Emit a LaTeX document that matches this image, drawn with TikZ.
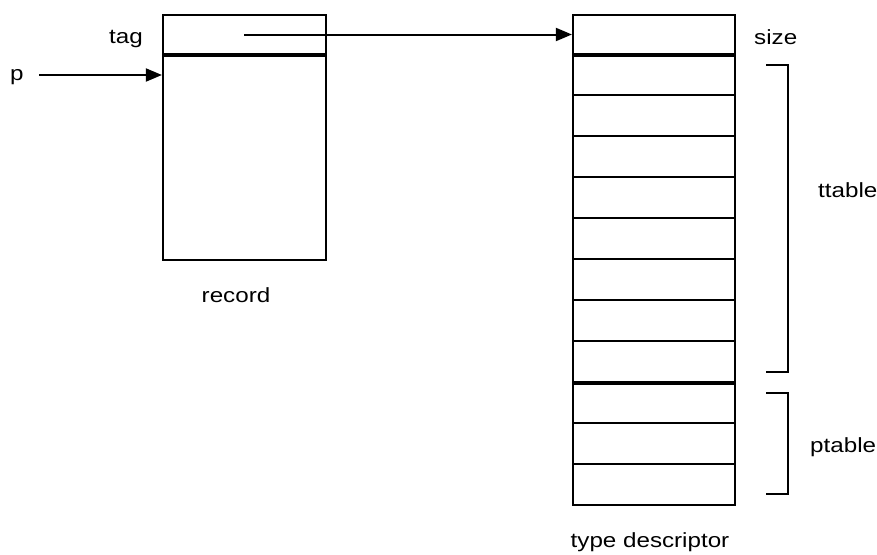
\documentclass[tikz,border=0pt]{standalone}
\usepackage{fontspec}
\setmainfont{Liberation Sans}[FakeStretch=1.18]
\usetikzlibrary{arrows.meta}
\begin{document}
\begin{tikzpicture}[x=1pt,y=-1pt,
  cell/.style={draw,line width=2.2pt,inner sep=0pt,minimum width=162pt,minimum height=41pt},
  label/.style={inner sep=0pt,font=\fontsize{20.5}{24}\selectfont},
  ptr/.style={line width=2pt,-{Triangle[length=16pt,width=13pt]}},
  brace/.style={line width=2.2pt}]
\useasboundingbox (0,0) rectangle (877,554);

% record: tag field on top of the body
\node[cell,minimum width=163pt,minimum height=39pt] (tagfield) at (244.5,34.5) {};
\node[cell,minimum width=163pt,minimum height=206pt] (body) at (244.5,157) {};
\draw[line width=2.8pt] (tagfield.south west) -- (tagfield.south east);

% type descriptor: size word, ttable rows, ptable rows
\node[cell,minimum height=39pt] (size) at (654,34.5) {};
\foreach \i in {1,...,8} {
  \node[cell] (tt\i) at (654,{54+41*(\i-1)+20.5}) {};
}
\foreach \i in {1,...,3} {
  \node[cell] (pt\i) at (654,{382+41*(\i-1)+20.5}) {};
}
\draw[line width=2.8pt] (size.south west) -- (size.south east);
\draw[line width=2.8pt] (tt8.south west) -- (tt8.south east);

% labels
\node[label,anchor=base east] (taglbl) at (143,43) {tag};
\node[label,anchor=base west] (plbl) at (10,80) {p};
\node[label,anchor=base west] (sizelbl) at (754,44) {size};
\node[label,anchor=base west] (ttlbl) at (818,197) {ttable};
\node[label,anchor=base west] (ptlbl) at (810,452) {ptable};
\node[label,anchor=base] (reclbl) at (236,302) {record};
\node[label,anchor=base] (tdlbl) at (650,547) {type descriptor};

% pointers
\coordinate (pstart) at (39,75);
\coordinate (tagstart) at (244,34.5);
\draw[ptr] (pstart) -- (pstart -| body.west);
\draw[ptr] (tagstart) -- (size.west);

% brackets for the two tables
\draw[brace] (766,65) -- (788,65) -- (788,372) -- (766,372);
\draw[brace] (766,393) -- (788,393) -- (788,494) -- (766,494);
\end{tikzpicture}
\end{document}
